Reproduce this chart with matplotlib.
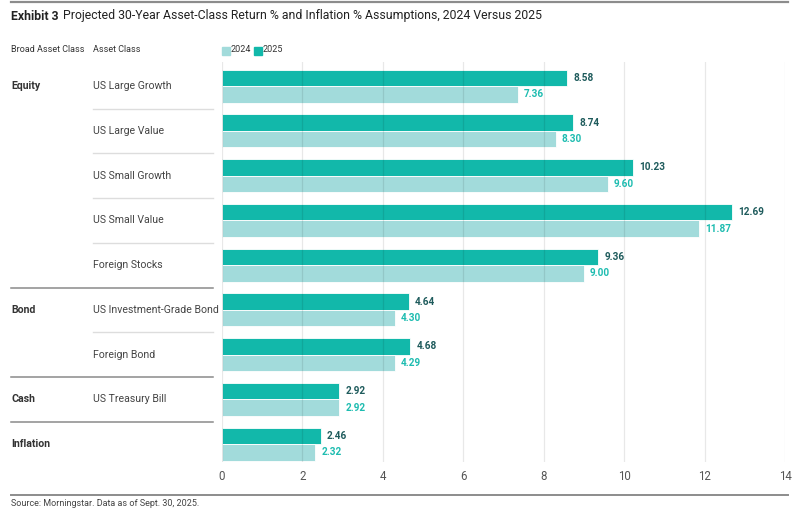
import matplotlib
matplotlib.use("Agg")
import matplotlib.pyplot as plt
import matplotlib.transforms as mtransforms
from matplotlib.patches import Rectangle
from matplotlib.lines import Line2D

plt.rcParams['font.family'] = ['Roboto', 'DejaVu Sans']

broad_classes = ["Equity", "", "", "", "", "Bond", "", "Cash", "Inflation"]
asset_classes = ["US Large Growth", "US Large Value", "US Small Growth", "US Small Value",
                 "Foreign Stocks", "US Investment-Grade Bond", "Foreign Bond",
                 "US Treasury Bill", ""]
values_2025 = [8.58, 8.74, 10.23, 12.69, 9.36, 4.64, 4.68, 2.92, 2.46]
values_2024 = [7.36, 8.30, 9.60, 11.87, 9.00, 4.30, 4.29, 2.92, 2.32]
x_ticks = [0, 2, 4, 6, 8, 10, 12, 14]
series_labels = ["2024", "2025"]

C25 = "#12b8aa"
C24 = "#a2dbdb"
L25 = "#1e5b5c"
L24 = "#1dbcb0"
TXT = "#333333"

W, H = 800, 515
fig = plt.figure(figsize=(W / 100, H / 100), dpi=100)

def fx(px):
    return px / W

def fy(py):
    return 1 - py / H

ax = fig.add_axes([fx(222), fy(462), fx(785) - fx(222), fy(62) - fy(462)])
n = len(asset_classes)
ys = list(range(n))
bh = 0.37
ax.barh([y - bh / 2 for y in ys], values_2025, height=bh, color=C25, edgecolor="white", linewidth=0.6, zorder=2)
ax.barh([y + bh / 2 for y in ys], values_2024, height=bh, color=C24, edgecolor="white", linewidth=0.6, zorder=2)

for y, v in zip(ys, values_2025):
    ax.text(v + 0.15, y - bh / 2, f"{v:.2f}", va="center", ha="left", fontsize=7.2,
            fontweight="bold", color=L25, zorder=4)
for y, v in zip(ys, values_2024):
    ax.text(v + 0.15, y + bh / 2, f"{v:.2f}", va="center", ha="left", fontsize=7.2,
            fontweight="bold", color=L24, zorder=4)

ax.set_xlim(0, 14)
ax.set_ylim(8.4, -0.54)
ax.set_xticks(x_ticks)
ax.set_xticklabels([str(t) for t in x_ticks], fontsize=8.3, color="#555555")
ax.set_yticks([])
ax.tick_params(axis="x", length=0, pad=6)
for s in ax.spines.values():
    s.set_visible(False)
ax.set_axisbelow(False)
ax.grid(axis="x", color="#000000", alpha=0.09, linewidth=0.9, zorder=3)

blend = mtransforms.blended_transform_factory(fig.transFigure, ax.transData)

# left labels
for y, b, a in zip(ys, broad_classes, asset_classes):
    if b:
        fig.text(fx(11), y, b, transform=blend, va="center", ha="left", fontsize=7.6,
                 fontweight="bold", color=TXT)
    if a:
        fig.text(fx(93), y, a, transform=blend, va="center", ha="left", fontsize=7.6,
                 color="#444444")

# separators
group_starts = [i for i, b in enumerate(broad_classes) if b]
for i in range(1, n):
    yy = i - 0.5
    if i in group_starts:
        fig.add_artist(Line2D([fx(11), fx(213)], [yy, yy], transform=blend,
                              color="#8a8a8a", linewidth=1.1))
    else:
        fig.add_artist(Line2D([fx(93), fx(213)], [yy, yy], transform=blend,
                              color="#dddddd", linewidth=1.0))

# headers
fig.text(fx(11), fy(50), "Broad Asset Class", va="center", ha="left", fontsize=6.5, color=TXT)
fig.text(fx(93), fy(50), "Asset Class", va="center", ha="left", fontsize=6.5, color=TXT)

# legend
fig.add_artist(Rectangle((fx(222), fy(55)), fx(8), fy(47) - fy(55), transform=fig.transFigure,
                         color=C24))
fig.text(fx(231), fy(50), series_labels[0], va="center", ha="left", fontsize=6.5, color=TXT)
fig.add_artist(Rectangle((fx(254), fy(55)), fx(8), fy(47) - fy(55), transform=fig.transFigure,
                         color=C25))
fig.text(fx(263), fy(50), series_labels[1], va="center", ha="left", fontsize=6.5, color=TXT)

# title
t1 = fig.text(fx(11), fy(16), "Exhibit 3", va="center", ha="left", fontsize=8.8,
              fontweight="bold", color="#222222")
fig.canvas.draw()
bb = t1.get_window_extent()
fig.text(bb.x1 / W + fx(4), fy(16),
         "Projected 30-Year Asset-Class Return % and Inflation % Assumptions, 2024 Versus 2025",
         va="center", ha="left", fontsize=8.8, color="#222222")

# rules
fig.add_artist(Line2D([fx(11), fx(788)], [fy(2), fy(2)], transform=fig.transFigure,
                      color="#8c8c8c", linewidth=1.6))
fig.add_artist(Line2D([fx(11), fx(788)], [fy(495), fy(495)], transform=fig.transFigure,
                      color="#8c8c8c", linewidth=1.4))

fig.text(fx(11), fy(504), "Source: Morningstar. Data as of Sept. 30, 2025.", va="center",
         ha="left", fontsize=6.5, color="#444444")

fig.savefig("out.png", dpi=100)
